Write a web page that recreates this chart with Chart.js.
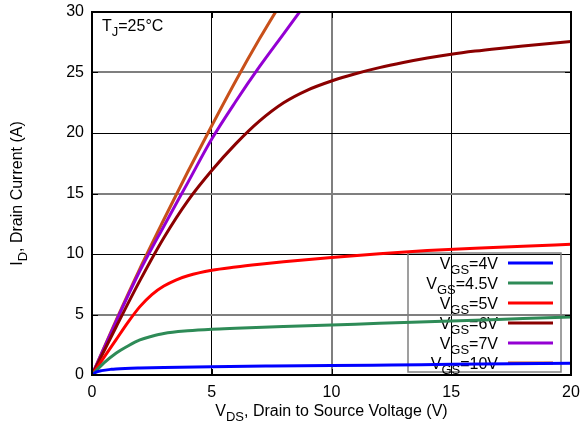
<!DOCTYPE html>
<html>
<head>
<meta charset="utf-8">
<script src="https://cdn.jsdelivr.net/npm/chart.js@4/dist/chart.umd.min.js"></script>
<style>
  html, body { margin: 0; padding: 0; background: #fff; }
  #wrap { width: 582px; height: 432px; }
</style>
</head>
<body>
<div id="wrap"><canvas id="c" width="582" height="432"></canvas></div>
<script>
// Output characteristics: drain current vs drain-source voltage, one curve per gate voltage
const vgsLabels = ['4V', '4.5V', '5V', '6V', '7V', '10V'];
const lineColors = ['#0000ff', '#2e8b57', '#ff0000', '#8b0000', '#9400d3', '#c8501a'];

const vds4 = [0, 0.2, 0.4, 0.8, 1, 2, 3, 5, 7.5, 10, 12.5, 15, 17.5, 20];
const id4  = [0, 0.25, 0.36, 0.47, 0.5, 0.58, 0.63, 0.69, 0.74, 0.78, 0.83, 0.88, 0.93, 0.98];

const vds45 = [0, 0.5, 1, 1.5, 2, 2.5, 3, 4, 5, 6, 8, 10, 12, 14, 16, 18, 20];
const id45  = [0, 1.0, 1.8, 2.4, 2.9, 3.2, 3.43, 3.65, 3.78, 3.86, 4.0, 4.13, 4.27, 4.4, 4.53, 4.66, 4.8];

const vds5 = [0, 0.5, 1, 1.5, 2, 2.5, 3, 3.5, 4, 5, 6, 7, 8, 10, 12, 14, 16, 18, 20];
const id5  = [0, 1.45, 2.9, 4.35, 5.65, 6.65, 7.35, 7.85, 8.2, 8.65, 8.92, 9.15, 9.36, 9.72, 10.03, 10.28, 10.48, 10.65, 10.8];

const vds6 = [0, 1, 2, 3, 4, 5, 6, 7, 8, 9, 10, 11, 12, 13, 14, 15, 16, 17, 18, 19, 20];
const id6  = [0, 3.95, 7.8, 11.35, 14.4, 16.9, 19.1, 21.0, 22.5, 23.55, 24.3, 24.9, 25.4, 25.82, 26.19, 26.51, 26.77, 26.99, 27.19, 27.38, 27.56];

const vds7 = [0, 1, 2, 3, 4, 5, 6, 7, 8, 9];
const id7  = [0, 4.4, 8.6, 12.3, 15.9, 19.5, 22.6, 25.5, 28.2, 30.9];

const vds10 = [0, 1, 2, 3, 4, 5, 6, 7, 8];
const id10  = [0, 4.5, 8.8, 12.85, 16.8, 20.6, 24.3, 27.8, 31.1];

const xTicks = [0, 5, 10, 15, 20];
const yTicks = [0, 5, 10, 15, 20, 25, 30];

const FONT = "'Liberation Sans', Arial, Helvetica, sans-serif";
const toPoints = (xs, ys) => xs.map((x, i) => ({ x: x, y: ys[i] }));
const curves = [[vds4, id4], [vds45, id45], [vds5, id5], [vds6, id6], [vds7, id7], [vds10, id10]];

const datasets = curves.map((c, i) => ({
  label: 'VGS=' + vgsLabels[i],
  data: toPoints(c[0], c[1]),
  borderColor: lineColors[i],
  backgroundColor: lineColors[i],
  borderWidth: 3,
  pointRadius: 0,
  fill: false,
  cubicInterpolationMode: 'monotone'
}));

// draws "main" + subscript + rest, starting at x (left aligned), baseline y
function richText(ctx, x, y, main, sub, rest, size, subSize) {
  ctx.font = size + 'px ' + FONT;
  ctx.fillText(main, x, y);
  x += ctx.measureText(main).width;
  ctx.font = subSize + 'px ' + FONT;
  ctx.fillText(sub, x, y + size * 0.3);
  x += ctx.measureText(sub).width;
  ctx.font = size + 'px ' + FONT;
  ctx.fillText(rest, x, y);
}
function richWidth(ctx, main, sub, rest, size, subSize) {
  ctx.font = size + 'px ' + FONT;
  let w = ctx.measureText(main).width + ctx.measureText(rest).width;
  ctx.font = subSize + 'px ' + FONT;
  return w + ctx.measureText(sub).width;
}

const decorations = {
  id: 'decorations',
  beforeDatasetsDraw(chart) {
    const ctx = chart.ctx;
    const a = chart.chartArea;
    ctx.save();
    // legend box (transparent, curves pass over it)
    const bx = a.right - 163, by = a.bottom - 122;
    ctx.strokeStyle = '#808080';
    ctx.lineWidth = 1.5;
    ctx.strokeRect(bx, by, 153, 119);
    ctx.textBaseline = 'alphabetic';
    vgsLabels.forEach((lab, i) => {
      const cy = by + 10 + i * 20;
      const w = richWidth(ctx, 'V', 'GS', '=' + lab, 16, 13);
      ctx.fillStyle = '#000';
      richText(ctx, bx + 90 - w, cy + 6, 'V', 'GS', '=' + lab, 16, 13);
      ctx.strokeStyle = lineColors[i];
      ctx.lineWidth = 3;
      ctx.beginPath();
      ctx.moveTo(bx + 100, cy);
      ctx.lineTo(bx + 145, cy);
      ctx.stroke();
    });
    ctx.restore();
  },
  afterDatasetsDraw(chart) {
    const ctx = chart.ctx;
    const a = chart.chartArea;
    const xs = chart.scales.x, ys = chart.scales.y;
    ctx.save();
    // inward tick marks on all four sides
    ctx.strokeStyle = '#000';
    ctx.lineWidth = 1;
    ctx.beginPath();
    yTicks.forEach(v => {
      const p = Math.round(ys.getPixelForValue(v)) + 0.5;
      ctx.moveTo(a.left, p); ctx.lineTo(a.left + 6, p);
      ctx.moveTo(a.right, p); ctx.lineTo(a.right - 6, p);
    });
    xTicks.forEach(v => {
      const p = Math.round(xs.getPixelForValue(v)) + 0.5;
      ctx.moveTo(p, a.bottom); ctx.lineTo(p, a.bottom - 6);
      ctx.moveTo(p, a.top); ctx.lineTo(p, a.top + 6);
    });
    ctx.stroke();
    // plot frame
    ctx.lineWidth = 2;
    ctx.strokeRect(a.left, a.top, a.right - a.left, a.bottom - a.top);
    // junction temperature note
    ctx.fillStyle = '#000';
    ctx.textBaseline = 'alphabetic';
    richText(ctx, a.left + 10, a.top + 19, 'T', 'J', '=25°C', 16, 13);
    // axis titles
    const wx = richWidth(ctx, 'V', 'DS', ', Drain to Source Voltage (V)', 16, 13);
    richText(ctx, (a.left + a.right) / 2 - wx / 2, 416, 'V', 'DS', ', Drain to Source Voltage (V)', 16, 13);
    const wy = richWidth(ctx, 'I', 'D', ', Drain Current (A)', 16, 13);
    ctx.translate(22, (a.top + a.bottom) / 2);
    ctx.rotate(-Math.PI / 2);
    richText(ctx, -wy / 2, 0, 'I', 'D', ', Drain Current (A)', 16, 13);
    ctx.restore();
  }
};

function noPad(s) { s.paddingLeft = 0; s.paddingRight = 0; s.paddingTop = 0; s.paddingBottom = 0; }

new Chart(document.getElementById('c'), {
  type: 'line',
  data: { datasets: datasets },
  options: {
    responsive: false,
    animation: false,
    events: [],
    layout: { padding: { top: 12, right: 11, left: 0, bottom: 0 } },
    plugins: { legend: { display: false }, tooltip: { enabled: false }, title: { display: false } },
    scales: {
      x: {
        type: 'linear', min: 0, max: 20,
        afterBuildTicks: s => { s.ticks = xTicks.map(v => ({ value: v })); },
        afterFit: s => { s.height = 57; noPad(s); },
        border: { display: false },
        grid: {
          drawTicks: false,
          color: c => (c.tick && c.tick.value % 10 === 5) ? '#000' : '#7f7f7f',
          lineWidth: c => (c.tick && c.tick.value % 10 === 5) ? 1 : 2
        },
        ticks: { color: '#000', font: { family: FONT, size: 16 }, padding: 8, maxRotation: 0 }
      },
      y: {
        type: 'linear', min: 0, max: 30,
        afterBuildTicks: s => { s.ticks = yTicks.map(v => ({ value: v })); },
        afterFit: s => { s.width = 92; noPad(s); },
        border: { display: false },
        grid: {
          drawTicks: false,
          color: c => (c.tick && c.tick.value % 10 === 0) ? '#000' : '#7f7f7f',
          lineWidth: c => (c.tick && c.tick.value % 10 === 0) ? 1 : 2
        },
        ticks: { color: '#000', font: { family: FONT, size: 16 }, padding: 8 }
      }
    }
  },
  plugins: [decorations]
});
</script>
</body>
</html>
